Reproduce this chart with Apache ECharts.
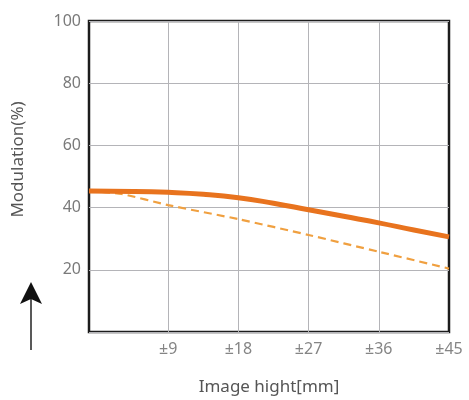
<!DOCTYPE html>
<html>
<head>
<meta charset="utf-8">
<script src="https://cdn.jsdelivr.net/npm/echarts@6/dist/echarts.min.js"></script>
<style>html,body{margin:0;padding:0;background:#fff;}#c{width:469px;height:400px;}</style>
</head>
<body>
<div id="c"></div>
<script>
var xTicks = [9, 18, 27, 36, 45];
var yTicks = [20, 40, 60, 80, 100];
var solidX = [-1.15, 4.5, 9, 13.5, 18, 22.5, 27, 31.5, 36, 40.5, 45];
var solidY = [45.3, 45.2, 44.9, 44.3, 43.2, 41.4, 39.3, 37.2, 35.1, 32.8, 30.6];
var dashX = [-1.15, 3, 9, 18, 27, 36, 45];
var dashY = [45.3, 44.4, 40.8, 36.3, 31.2, 25.8, 20.4];
var xName = 'Image hight[mm]';
var yName = 'Modulation(%)';

function pairs(xs, ys){ return xs.map(function(x,i){ return [x, ys[i]]; }); }

var chart = echarts.init(document.getElementById('c'), null, {renderer:'canvas'});
var font = "'Noto Sans', 'DejaVu Sans', sans-serif";
chart.setOption({
  animation: false,
  backgroundColor: '#ffffff',
  grid: {left: 89, top: 21, right: 20, bottom: 68, outerBoundsMode: 'none', containLabel: false, show: true, borderColor: '#1c1c1c', borderWidth: 2.5, backgroundColor: 'transparent'},
  xAxis: {
    type: 'value', min: -1.15, max: 45,
    name: xName, nameLocation: 'middle', nameGap: 47,
    nameTextStyle: {fontSize: 17, color: '#555', fontFamily: font},
    axisLine: {show: false}, axisTick: {show: false},
    splitLine: {show: false},
    axisLabel: {customValues: xTicks, formatter: function(v){ return '\u00b1' + v; }, fontSize: 16, color: '#858585', fontFamily: font, margin: 9}
  },
  yAxis: {
    type: 'value', min: 0, max: 100, interval: 20,
    name: yName, nameLocation: 'middle', nameGap: 62,
    nameTextStyle: {fontSize: 17, color: '#555', fontFamily: font, padding: [0, 0, 0, 34]},
    axisLine: {show: false}, axisTick: {show: false},
    splitLine: {show: true, lineStyle: {color: '#b4b4b8', width: 1}},
    axisLabel: {formatter: function(v){ return yTicks.indexOf(v) >= 0 ? String(v) : ''; }, fontSize: 16, color: '#7a7a7a', fontFamily: font, margin: 8}
  },
  series: [
    {
      type: 'line', data: pairs(dashX, dashY), smooth: 0.2, symbol: 'none', z: 3,
      lineStyle: {color: '#f0a040', width: 2.2, type: [8, 5]},
      markLine: {
        silent: true, symbol: 'none', label: {show: false}, z: 1,
        lineStyle: {color: '#b4b4b8', width: 1, type: 'solid'},
        data: xTicks.slice(0, 4).map(function(v){ return {xAxis: v}; })
      }
    },
    {
      type: 'line', data: pairs(solidX, solidY), smooth: true, symbol: 'none', z: 4,
      lineStyle: {color: '#e8731e', width: 5}
    }
  ],
  graphic: [
    {type: 'line', shape: {x1: 31, y1: 298, x2: 31, y2: 350}, style: {stroke: '#222', lineWidth: 1.5}},
    {type: 'polygon', shape: {points: [[31, 282], [42, 304], [31, 299], [20, 304]]}, style: {fill: '#111'}}
  ]
});
</script>
</body>
</html>
